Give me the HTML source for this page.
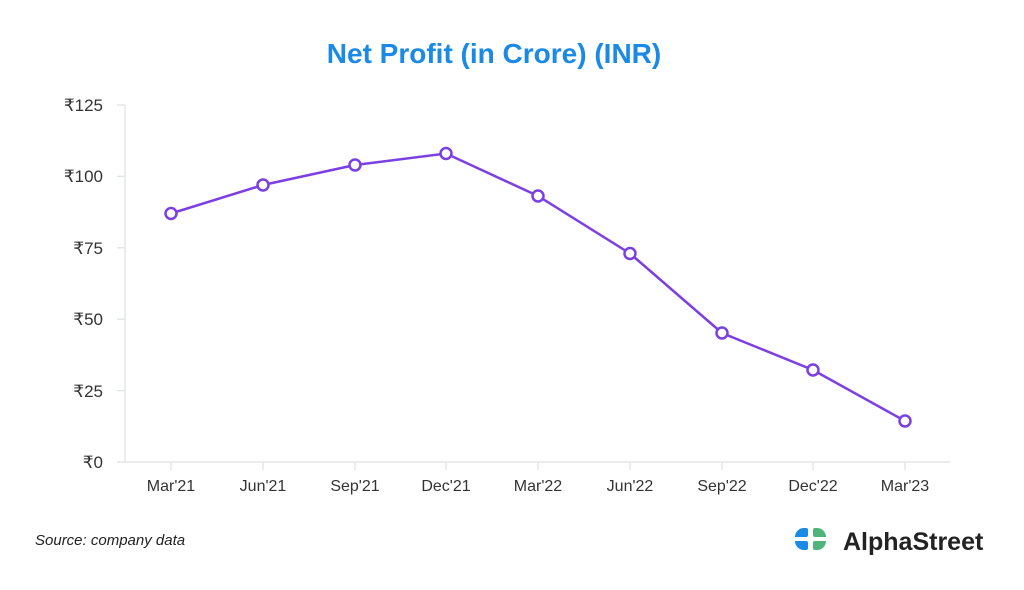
<!DOCTYPE html>
<html><head><style>
body{margin:0;background:#fff;width:1024px;height:585px;overflow:hidden;font-family:"Liberation Sans",sans-serif}
</style></head><body>
<svg width="1024" height="585" xmlns="http://www.w3.org/2000/svg" font-family="Liberation Sans, sans-serif">
<text x="494" y="63" text-anchor="middle" font-size="28" font-weight="bold" fill="#1a8ae6">Net Profit (in Crore) (INR)</text>
<g stroke="#e3e6e8" stroke-width="1.5" fill="none">
<line x1="125" y1="105" x2="125" y2="462"/>
<line x1="125" y1="462" x2="950" y2="462"/>
<line x1="117" y1="105" x2="125" y2="105"/><line x1="117" y1="176.4" x2="125" y2="176.4"/><line x1="117" y1="247.8" x2="125" y2="247.8"/><line x1="117" y1="319.2" x2="125" y2="319.2"/><line x1="117" y1="390.6" x2="125" y2="390.6"/><line x1="117" y1="462" x2="125" y2="462"/>
<line x1="171" y1="462" x2="171" y2="470"/><line x1="263" y1="462" x2="263" y2="470"/><line x1="355" y1="462" x2="355" y2="470"/><line x1="446" y1="462" x2="446" y2="470"/><line x1="538" y1="462" x2="538" y2="470"/><line x1="630" y1="462" x2="630" y2="470"/><line x1="722" y1="462" x2="722" y2="470"/><line x1="813" y1="462" x2="813" y2="470"/><line x1="905" y1="462" x2="905" y2="470"/>
</g>
<g font-size="17" fill="#333" text-anchor="end">
<text x="103" y="111">₹125</text><text x="103" y="182">₹100</text><text x="103" y="254">₹75</text><text x="103" y="325">₹50</text><text x="103" y="397">₹25</text><text x="103" y="468">₹0</text>
</g>
<g font-size="16" fill="#333" text-anchor="middle">
<text x="171" y="491">Mar'21</text><text x="263" y="491">Jun'21</text><text x="355" y="491">Sep'21</text><text x="446" y="491">Dec'21</text><text x="538" y="491">Mar'22</text><text x="630" y="491">Jun'22</text><text x="722" y="491">Sep'22</text><text x="813" y="491">Dec'22</text><text x="905" y="491">Mar'23</text>
</g>
<polyline fill="none" stroke="#7b3fe4" stroke-width="2.5" points="171,213.5 263,185 355,165 446,153.5 538,196 630,253.5 722,333 813,370 905,421"/>
<g fill="#fff" stroke="#7b3fe4" stroke-width="2.5">
<circle cx="171" cy="213.5" r="5.5"/><circle cx="263" cy="185" r="5.5"/><circle cx="355" cy="165" r="5.5"/><circle cx="446" cy="153.5" r="5.5"/><circle cx="538" cy="196" r="5.5"/><circle cx="630" cy="253.5" r="5.5"/><circle cx="722" cy="333" r="5.5"/><circle cx="813" cy="370" r="5.5"/><circle cx="905" cy="421" r="5.5"/>
</g>
<text x="35" y="545" font-size="15" font-style="italic" fill="#222">Source: company data</text>
<g>
<path d="M795,537 a9,9 0 0 1 9,-9 h2 a2,2 0 0 1 2,2 v5 a2,2 0 0 1 -2,2 z" fill="#1a8ae6"/>
<path d="M795,541 h11 a2,2 0 0 1 2,2 v5 a2,2 0 0 1 -2,2 h-2 a9,9 0 0 1 -9,-9 z" fill="#1a8ae6"/>
<path d="M813,530 a2,2 0 0 1 2,-2 h2 a9,9 0 0 1 9,9 h-11 a2,2 0 0 1 -2,-2 z" fill="#4fb47a"/>
<path d="M815,541 h11 a9,9 0 0 1 -9,9 h-2 a2,2 0 0 1 -2,-2 v-5 a2,2 0 0 1 2,-2 z" fill="#4fb47a"/>
</g>
<text x="843" y="550" font-size="25" font-weight="bold" fill="#222">AlphaStreet</text>
</svg>
</body></html>
